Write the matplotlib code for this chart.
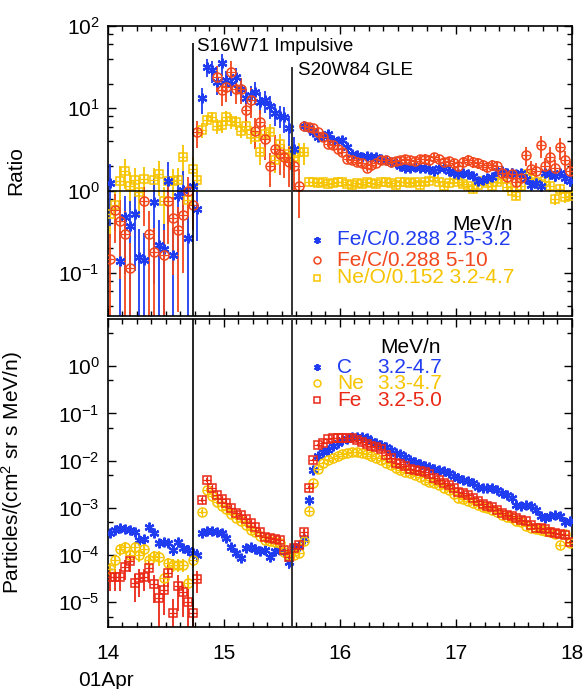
import numpy as np
import matplotlib
matplotlib.use("Agg")
import matplotlib.pyplot as plt
from matplotlib.ticker import LogLocator, FixedLocator, MultipleLocator, NullFormatter

plt.rcParams['font.family'] = ['Liberation Sans', 'DejaVu Sans']
plt.rcParams['mathtext.fontset'] = 'custom'
plt.rcParams['mathtext.rm'] = 'Liberation Sans'
plt.rcParams['mathtext.it'] = 'Liberation Sans:italic'
plt.rcParams['mathtext.bf'] = 'Liberation Sans:bold'

nan = np.nan

# hourly bins, 14 Apr 00:00 -> 18 Apr 00:00 (day of month)
hours = np.arange(96)
t_day = 14 + (hours + 0.5) / 24.0

# event times (day of month)
t_impulsive = 14.733
t_gle = 15.586

# ---- top panel: log10 of abundance ratios ----
fec_low_log = [
    0.09, nan, -0.85, -0.32, -0.43, -0.28, -0.81, -0.84, nan, -0.14, -0.66, -0.71,
    0.12, -0.78, -0.06, 0.01, -0.57, 0.06, -0.22, 1.12, 1.50, 1.46, 1.32, 1.55,
    1.34, 1.30, 1.38, 1.24, 1.12, 1.16, 1.20, 1.08, 1.10, 1.03, 0.94, 0.91,
    0.89, 0.76, 0.51, nan, 0.79, 0.76, 0.71, 0.65, 0.66, 0.69, 0.61, 0.60,
    0.61, 0.53, 0.45, 0.43, 0.41, 0.42, 0.41, 0.41, 0.39, 0.37, 0.35, 0.33,
    0.30, 0.28, 0.27, 0.29, 0.28, 0.27, 0.26, 0.24, 0.28, 0.28, 0.24, 0.22,
    0.20, 0.21, 0.20, 0.18, 0.12, 0.13, 0.15, 0.16, 0.24, 0.24, 0.21, 0.22,
    0.20, 0.21, 0.14, 0.07, 0.09, 0.06, 0.22, 0.20, 0.18, 0.22, 0.15, 0.12]
fec_low_err = [
    0.7, 0, 1.3, 0.8, 1.0, 0.8, 1.2, 1.1, 0, 0.9, 1.0, 1.0,
    0.7, 1.1, 0.8, 0.7, 0.9, 0.5, 0.6, 0.35, 0.25, 0.3, 0.3, 0.3,
    0.3, 0.3, 0.3, 0.3, 0.3, 0.3, 0.3, 0.3, 0.3, 0.3, 0.3, 0.3,
    0.35, 0.4, 0.4, 0, 0.15, 0.12, 0.12, 0.1, 0.1, 0.1, 0.1, 0.1,
    0.08, 0.08, 0.08, 0.08, 0.08, 0.08, 0.08, 0.08, 0.08, 0.08, 0.08, 0.08,
    0.08, 0.08, 0.08, 0.08, 0.08, 0.08, 0.08, 0.08, 0.08, 0.08, 0.08, 0.08,
    0.1, 0.1, 0.1, 0.1, 0.1, 0.1, 0.1, 0.1, 0.1, 0.1, 0.1, 0.1,
    0.12, 0.12, 0.12, 0.12, 0.12, 0.12, 0.15, 0.15, 0.15, 0.15, 0.15, 0.15]

fec_high_log = [
    -0.83, -0.24, -0.37, -0.53, -0.94, nan, nan, -0.13, -0.53, -0.75, nan, -0.78,
    -0.13, -0.33, -0.48, -0.30, -0.01, -0.18, 0.71, nan, nan, nan, 1.38, 1.22,
    1.26, 1.44, 1.24, 1.24, 0.98, 1.10, 0.73, 0.83, 0.63, 0.30, 0.51, 0.45,
    0.41, 0.35, 0.30, 0.06, 0.79, 0.77, 0.76, 0.71, 0.65, 0.57, 0.55, 0.51,
    0.47, 0.39, 0.37, 0.35, 0.33, 0.28, 0.31, 0.33, 0.37, 0.37, 0.35, 0.36,
    0.37, 0.39, 0.37, 0.36, 0.38, 0.39, 0.37, 0.41, 0.38, 0.35, 0.36, 0.33,
    0.30, 0.35, 0.37, 0.35, 0.33, 0.31, 0.29, 0.31, 0.30, 0.22, 0.16, 0.20,
    0.10, 0.15, 0.43, 0.26, 0.24, 0.55, 0.30, 0.41, 0.28, 0.53, 0.37, 0.24]
fec_high_err = [
    1.0, 0.6, 0.8, 0.9, 1.0, 0, 0, 0.5, 0.9, 1.0, 0, 1.0,
    0.7, 0.8, 0.9, 0.8, 0.5, 0.5, 0.35, 0, 0, 0, 0.35, 0.35,
    0.35, 0.35, 0.35, 0.35, 0.4, 0.4, 0.4, 0.4, 0.45, 0.45, 0.45, 0.45,
    0.45, 0.5, 0.5, 0.6, 0.1, 0.1, 0.1, 0.1, 0.1, 0.1, 0.1, 0.1,
    0.1, 0.1, 0.1, 0.1, 0.1, 0.1, 0.1, 0.1, 0.1, 0.1, 0.1, 0.1,
    0.1, 0.1, 0.12, 0.12, 0.12, 0.12, 0.12, 0.12, 0.12, 0.12, 0.12, 0.12,
    0.15, 0.15, 0.15, 0.15, 0.15, 0.15, 0.15, 0.15, 0.15, 0.2, 0.2, 0.2,
    0.2, 0.2, 0.25, 0.25, 0.25, 0.3, 0.25, 0.3, 0.25, 0.3, 0.3, 0.3]

neo_log = [
    -0.28, -0.18, 0.12, 0.24, 0.05, 0.13, -0.02, 0.14, nan, 0.13, 0.20, -0.13,
    0.12, 0.12, 0.13, 0.41, -0.12, 0.26, 0.13, 0.74, 0.86, 0.90, 0.79, 0.80,
    0.89, 0.85, 0.83, 0.73, 0.79, 0.69, 0.65, 0.47, 0.69, 0.71, 0.37, 0.57,
    0.41, 0.45, 0.41, 0.47, 0.47, 0.10, 0.10, 0.09, 0.10, 0.08, 0.09, 0.10,
    0.10, 0.08, 0.07, 0.09, 0.08, 0.10, 0.09, 0.08, 0.10, 0.11, 0.09, 0.07,
    0.10, 0.11, 0.09, 0.10, 0.07, 0.10, 0.12, 0.16, 0.10, 0.06, 0.09, 0.14,
    0.10, 0.08, 0.05, 0.02, 0.07, 0.12, 0.09, 0.06, 0.10, 0.14, 0.04, 0.00,
    -0.06, 0.05, 0.20, 0.14, 0.10, 0.08, 0.12, 0.05, -0.10, 0.02, -0.08, -0.06]
neo_err = [
    0.5, 0.5, 0.5, 0.4, 0.5, 0.4, 0.5, 0.4, 0, 0.4, 0.45, 0.5,
    0.4, 0.4, 0.4, 0.4, 0.6, 0.4, 0.35, 0.2, 0.15, 0.15, 0.2, 0.2,
    0.2, 0.2, 0.2, 0.2, 0.2, 0.25, 0.25, 0.3, 0.25, 0.25, 0.3, 0.3,
    0.3, 0.3, 0.3, 0.3, 0.3, 0.05, 0.05, 0.05, 0.05, 0.05, 0.05, 0.05,
    0.05, 0.05, 0.05, 0.05, 0.05, 0.05, 0.05, 0.05, 0.05, 0.05, 0.05, 0.05,
    0.06, 0.06, 0.06, 0.06, 0.06, 0.06, 0.06, 0.06, 0.06, 0.06, 0.06, 0.06,
    0.08, 0.08, 0.08, 0.08, 0.08, 0.08, 0.08, 0.08, 0.1, 0.1, 0.1, 0.12,
    0.12, 0.12, 0.12, 0.12, 0.12, 0.15, 0.15, 0.15, 0.15, 0.15, 0.15, 0.15]

# ---- bottom panel: log10 of intensities ----
c_log = [
    -3.53, -3.47, -3.43, -3.45, -3.47, -3.51, -3.68, -3.66, -3.40, -3.53, -3.74, -3.72,
    -3.74, -3.89, -3.72, -3.86, -3.89, -3.95, -3.99, -3.53, -3.50, -3.49, -3.51, -3.53,
    -3.64, -3.83, -3.96, -4.06, -3.85, -3.83, -3.87, -3.92, -3.90, -4.04, -3.92, -3.90,
    -3.93, -4.15, -3.85, -3.80, -3.65, -2.83, -2.19, -1.91, -1.81, -1.78, -1.68, -1.62,
    -1.57, -1.54, -1.50, -1.49, -1.50, -1.53, -1.58, -1.62, -1.66, -1.72, -1.77, -1.83,
    -1.86, -1.92, -1.98, -2.03, -2.07, -2.11, -2.14, -2.17, -2.19, -2.22, -2.26, -2.32,
    -2.36, -2.40, -2.43, -2.47, -2.55, -2.58, -2.57, -2.58, -2.63, -2.68, -2.72, -2.80,
    -2.94, -2.95, -2.94, -2.97, -3.05, -3.18, -3.21, -3.17, -3.15, -3.18, -3.30, -3.28]
c_err = [
    0.15, 0.15, 0.15, 0.15, 0.15, 0.15, 0.2, 0.2, 0.15, 0.15, 0.2, 0.2,
    0.2, 0.25, 0.2, 0.2, 0.25, 0.25, 0.3, 0.1, 0.1, 0.1, 0.1, 0.1,
    0.12, 0.15, 0.2, 0.2, 0.15, 0.15, 0.15, 0.2, 0.2, 0.2, 0.2, 0.2,
    0.2, 0.3, 0.2, 0.2, 0.15, 0.05, 0.03, 0.03, 0.03, 0.03, 0.03, 0.03,
    0.03, 0.03, 0.03, 0.03, 0.03, 0.03, 0.03, 0.03, 0.03, 0.03, 0.03, 0.03,
    0.03, 0.03, 0.03, 0.03, 0.03, 0.03, 0.03, 0.03, 0.03, 0.03, 0.03, 0.03,
    0.03, 0.03, 0.03, 0.03, 0.03, 0.03, 0.03, 0.03, 0.03, 0.03, 0.03, 0.03,
    0.04, 0.04, 0.04, 0.04, 0.04, 0.04, 0.04, 0.04, 0.04, 0.04, 0.04, 0.04]

ne_log = [
    -4.30, -4.11, -3.87, -3.83, -4.00, -3.83, -4.00, -3.87, -4.11, -4.02, -4.05, -4.49,
    -4.17, -4.20, -4.20, -4.20, -4.60, -4.11, nan, -3.09, -2.62, -2.75, -2.88, -2.96,
    -3.02, -3.12, -3.22, -3.28, -3.36, -3.47, -3.52, -3.60, -3.68, -3.70, -3.72, -3.74,
    -3.94, -4.00, -4.00, -3.95, -3.70, -3.06, -2.47, -2.17, -2.04, -1.98, -1.95, -1.90,
    -1.86, -1.83, -1.81, -1.81, -1.83, -1.86, -1.90, -1.94, -1.98, -2.04, -2.09, -2.15,
    -2.20, -2.23, -2.27, -2.31, -2.35, -2.40, -2.45, -2.48, -2.52, -2.57, -2.62, -2.70,
    -2.79, -2.82, -2.85, -2.90, -2.94, -2.98, -3.00, -3.04, -3.09, -3.15, -3.19, -3.21,
    -3.28, -3.30, -3.38, -3.43, -3.45, -3.47, -3.50, -3.52, -3.55, -3.79, -3.55, -3.74]
ne_err = [
    0.35, 0.3, 0.3, 0.3, 0.3, 0.3, 0.3, 0.3, 0.35, 0.3, 0.35, 0.45,
    0.3, 0.3, 0.3, 0.3, 0.5, 0.3, 0, 0.1, 0.08, 0.08, 0.08, 0.08,
    0.08, 0.1, 0.1, 0.1, 0.1, 0.12, 0.12, 0.12, 0.15, 0.15, 0.15, 0.15,
    0.2, 0.2, 0.2, 0.2, 0.15, 0.06, 0.04, 0.04, 0.04, 0.04, 0.04, 0.04,
    0.04, 0.04, 0.04, 0.04, 0.04, 0.04, 0.04, 0.04, 0.04, 0.04, 0.04, 0.04,
    0.04, 0.04, 0.04, 0.04, 0.04, 0.04, 0.04, 0.04, 0.04, 0.04, 0.04, 0.04,
    0.04, 0.04, 0.04, 0.04, 0.04, 0.04, 0.04, 0.04, 0.05, 0.05, 0.05, 0.05,
    0.05, 0.05, 0.05, 0.05, 0.05, 0.05, 0.05, 0.05, 0.05, 0.1, 0.05, 0.08]

fe_log = [
    -4.47, -4.47, -4.47, -4.26, -4.13, -4.60, -4.49, -4.47, -4.28, -4.62, -4.91, -4.74,
    -4.38, -5.23, -4.66, -4.79, -5.00, -5.23, -4.51, -2.83, -2.40, -2.57, -2.72, -2.81,
    -2.89, -3.00, -3.10, -3.15, -3.23, -3.32, -3.40, -3.51, -3.62, -3.64, -3.66, -3.68,
    -3.89, -4.04, -3.85, -3.79, -3.51, -2.57, -1.98, -1.66, -1.62, -1.55, -1.53, -1.51,
    -1.51, -1.52, -1.53, -1.57, -1.60, -1.65, -1.68, -1.72, -1.76, -1.88, -1.94, -2.04,
    -2.08, -2.12, -2.17, -2.20, -2.22, -2.24, -2.28, -2.36, -2.42, -2.47, -2.52, -2.58,
    -2.66, -2.68, -2.72, -2.80, -2.86, -2.92, -2.95, -2.98, -3.05, -3.10, -3.15, -3.18,
    -3.22, -3.26, -3.28, -3.36, -3.43, -3.42, -3.45, -3.52, -3.53, -3.56, -3.58, -3.72]
fe_err = [
    0.5, 0.5, 0.5, 0.45, 0.4, 0.6, 0.6, 0.5, 0.5, 0.6, 0.9, 0.7,
    0.5, 1.0, 0.7, 0.7, 0.9, 1.0, 0.5, 0.12, 0.1, 0.1, 0.1, 0.1,
    0.1, 0.1, 0.1, 0.1, 0.1, 0.12, 0.12, 0.12, 0.15, 0.15, 0.15, 0.15,
    0.2, 0.25, 0.2, 0.2, 0.15, 0.06, 0.04, 0.04, 0.04, 0.04, 0.04, 0.04,
    0.04, 0.04, 0.04, 0.04, 0.04, 0.04, 0.04, 0.04, 0.04, 0.04, 0.04, 0.04,
    0.04, 0.04, 0.04, 0.04, 0.04, 0.04, 0.04, 0.04, 0.04, 0.04, 0.04, 0.04,
    0.04, 0.04, 0.04, 0.04, 0.04, 0.04, 0.04, 0.04, 0.05, 0.05, 0.05, 0.05,
    0.05, 0.05, 0.05, 0.05, 0.05, 0.05, 0.05, 0.05, 0.05, 0.05, 0.05, 0.06]

BLUE = '#1f3cf0'
RED_TOP = '#f2461c'
RED_BOT = '#ea2816'
YELLOW = '#f6c400'
ASTER = (6, 2, 0)


def draw_series(ax, logs, errs, color, marker, ms, cross):
    v = 10 ** np.asarray(logs, dtype=float)
    f = np.asarray(errs, dtype=float)
    lo = np.minimum(v * f, v * 0.999)
    hi = v * f
    ax.errorbar(t_day, v, yerr=[lo, hi], fmt='none', ecolor=color,
                elinewidth=1.3, capsize=0, zorder=2)
    if marker == ASTER:
        ax.plot(t_day, v, linestyle='none', marker=marker, ms=ms + 1,
                mec=color, mew=1.6, color=color, zorder=3)
    else:
        ax.plot(t_day, v, linestyle='none', marker=marker, ms=ms,
                mfc='none', mec=color, mew=1.1, zorder=3)
    if cross:
        ax.plot(t_day, v, linestyle='none', marker='+', ms=ms - 0.5,
                mec=color, mew=0.9, zorder=3)


def style_axis(ax, subs):
    ax.set_xlim(14, 18)
    ax.xaxis.set_major_locator(MultipleLocator(1))
    ax.xaxis.set_minor_locator(MultipleLocator(1 / 8))
    ax.yaxis.set_minor_locator(LogLocator(base=10, subs=subs, numticks=20))
    ax.yaxis.set_minor_formatter(NullFormatter())
    ax.tick_params(which='both', direction='in', top=True, right=True,
                   labelsize=15, width=1.0)
    ax.tick_params(which='major', length=6)
    ax.tick_params(which='minor', length=3.5)
    ax.tick_params(axis='x', pad=12)
    ax.tick_params(axis='y', pad=6)
    for s in ax.spines.values():
        s.set_linewidth(1.2)


fig = plt.figure(figsize=(5.86, 6.89), dpi=100)
ax1 = fig.add_axes([0.1843, 0.5414, 0.7918, 0.4209])
ax2 = fig.add_axes([0.1843, 0.0900, 0.7918, 0.4470])

# ---------------- top panel ----------------
ax1.set_yscale('log')
ax1.set_ylim(0.03, 100)
draw_series(ax1, neo_log, neo_err, YELLOW, 's', 6, True)
draw_series(ax1, fec_low_log, fec_low_err, BLUE, ASTER, 6, False)
draw_series(ax1, fec_high_log, fec_high_err, RED_TOP, 'o', 6.5, True)
ax1.axhline(1.0, color='black', lw=1.1, zorder=4)
ax1.vlines(t_impulsive, 0.03, 62, color='black', lw=1.2, zorder=4)
ax1.vlines(t_gle, 0.03, 31.6, color='#333333', lw=1.4, zorder=4)
ax1.text(14.767, 57, 'S16W71 Impulsive', fontsize=13.5, va='center', ha='left')
ax1.text(15.638, 29, 'S20W84 GLE', fontsize=13.5, va='center', ha='left')
style_axis(ax1, (2, 4, 6, 8))
ax1.yaxis.set_major_locator(FixedLocator([0.1, 1, 10, 100]))
ax1.tick_params(axis='x', labelbottom=False)
ax1.set_ylabel('Ratio', fontsize=15)
ax1.yaxis.set_label_coords(-0.179, 0.5)

# legend (top)
ax1.text(0.873, 0.314, 'MeV/n', transform=ax1.transAxes, fontsize=15,
         ha='right', va='center')
top_rows = [
    ('Fe/C/0.288 2.5-3.2', BLUE, ASTER, 0.262),
    ('Fe/C/0.288 5-10', RED_TOP, 'o', 0.193),
    ('Ne/O/0.152 3.2-4.7', YELLOW, 's', 0.131),
]
for label, col, mk, yy in top_rows:
    if mk == ASTER:
        ax1.plot([0.450], [yy], transform=ax1.transAxes, marker=mk, ms=5,
                 mec=col, mew=1.4, linestyle='none')
    else:
        ax1.plot([0.450], [yy], transform=ax1.transAxes, marker=mk, ms=5,
                 mfc='none', mec=col, mew=1.1, linestyle='none')
    ax1.text(0.494, yy, label, color=col, transform=ax1.transAxes,
             fontsize=15, ha='left', va='center')

# ---------------- bottom panel ----------------
ax2.set_yscale('log')
ax2.set_ylim(3e-6, 1e1)
draw_series(ax2, c_log, c_err, BLUE, ASTER, 6, False)
draw_series(ax2, ne_log, ne_err, YELLOW, 'o', 6.5, True)
draw_series(ax2, fe_log, fe_err, RED_BOT, 's', 6, True)
ax2.axvline(t_impulsive, color='black', lw=1.2, zorder=4)
ax2.axvline(t_gle, color='#333333', lw=1.4, zorder=4)
style_axis(ax2, (5,))
ax2.yaxis.set_major_locator(FixedLocator([1e-5, 1e-4, 1e-3, 1e-2, 1e-1, 1e0]))
ax2.set_xticks([14, 15, 16, 17, 18])
ax2.set_xticklabels(['14', '15', '16', '17', '18'])
ax2.set_ylabel(r'Particles/(cm$^\mathregular{2}$ sr s MeV/n)', fontsize=15)
ax2.yaxis.set_label_coords(-0.179, 0.5)

# legend (bottom)
ax2.text(0.586, 0.906, 'MeV/n', transform=ax2.transAxes, fontsize=15,
         ha='left', va='center')
bot_rows = [
    ('C', '3.2-4.7', BLUE, ASTER, 0.844),
    ('Ne', '3.3-4.7', YELLOW, 'o', 0.792),
    ('Fe', '3.2-5.0', RED_BOT, 's', 0.737),
]
for name, rng, col, mk, yy in bot_rows:
    if mk == ASTER:
        ax2.plot([0.450], [yy], transform=ax2.transAxes, marker=mk, ms=5,
                 mec=col, mew=1.4, linestyle='none')
    else:
        ax2.plot([0.450], [yy], transform=ax2.transAxes, marker=mk, ms=5,
                 mfc='none', mec=col, mew=1.1, linestyle='none')
    ax2.text(0.494, yy, name, color=col, transform=ax2.transAxes,
             fontsize=15, ha='left', va='center')
    ax2.text(0.580, yy, rng, color=col, transform=ax2.transAxes,
             fontsize=15, ha='left', va='center')

fig.text(106 / 586, 1 - 680 / 689, '01Apr', fontsize=15, ha='center', va='center')

fig.savefig('out.png', dpi=100)
